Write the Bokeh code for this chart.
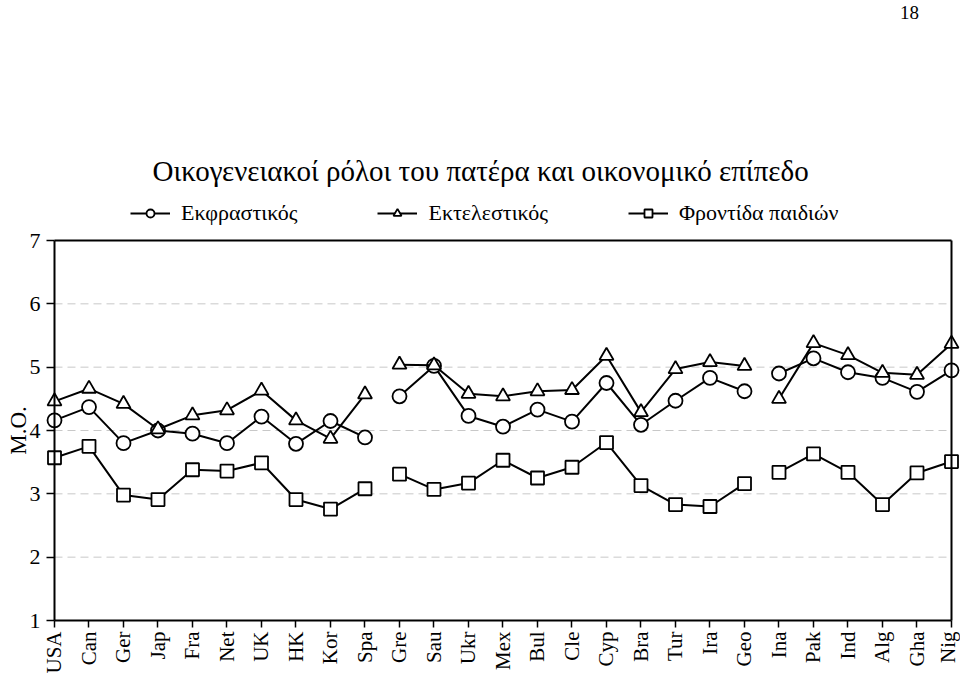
import math
from bokeh.plotting import figure
from bokeh.models import Range1d, FixedTicker, Legend, LegendItem, Label
from bokeh.embed import file_html
from bokeh.resources import INLINE

# ---------------- data ----------------
categories = ["USA", "Can", "Ger", "Jap", "Fra", "Net", "UK", "HK", "Kor", "Spa",
              "Gre", "Sau", "Ukr", "Mex", "Bul", "Cle", "Cyp", "Bra", "Tur", "Ira", "Geo",
              "Ina", "Pak", "Ind", "Alg", "Gha", "Nig"]
group_sizes = [10, 11, 6]

expressive = [4.16, 4.37, 3.80, 4.00, 3.95, 3.80, 4.22, 3.79, 4.15, 3.89,
              4.54, 5.02, 4.23, 4.06, 4.33, 4.14, 4.75, 4.09, 4.47, 4.83, 4.62,
              4.90, 5.14, 4.92, 4.83, 4.61, 4.95]
executive = [4.46, 4.66, 4.42, 4.02, 4.24, 4.32, 4.63, 4.16, 3.87, 4.57,
             5.04, 5.03, 4.58, 4.54, 4.62, 4.64, 5.18, 4.29, 4.97, 5.08, 5.02,
             4.50, 5.38, 5.19, 4.91, 4.88, 5.37]
childcare = [3.57, 3.75, 2.98, 2.91, 3.38, 3.36, 3.49, 2.91, 2.76, 3.08,
             3.31, 3.07, 3.17, 3.53, 3.25, 3.42, 3.81, 3.13, 2.83, 2.80, 3.16,
             3.34, 3.63, 3.34, 2.83, 3.33, 3.51]

series_names = ["Εκφραστικός", "Εκτελεστικός", "Φροντίδα παιδιών"]
y_ticks = [1, 2, 3, 4, 5, 6, 7]
title_text = "Οικογενειακοί ρόλοι του πατέρα και οικονομικό επίπεδο"
page_number = "18"
y_label = "M.O."

# ---------------- styling ----------------
FONT = "Liberation Serif"
N = len(categories)
xs = list(range(N))
Y0, Y1 = y_ticks[0], y_ticks[-1]

# the frame fills the whole canvas; axes are drawn at fixed data locations
p = figure(width=960, height=682, output_backend="svg", toolbar_location=None,
           x_range=Range1d(-1.5652, 26.2609), y_range=Range1d(0.0211, 10.7895),
           min_border_left=0, min_border_right=0, min_border_bottom=0,
           min_border_top=0, title=None)
p.outline_line_color = None
p.background_fill_color = "white"
p.border_fill_color = "white"
p.xgrid.grid_line_color = None
p.ygrid.grid_line_color = None

# dashed horizontal gridlines across the chart area
grid_levels = y_ticks[1:-1]
p.segment(x0=[xs[0]] * len(grid_levels), x1=[xs[-1]] * len(grid_levels),
          y0=grid_levels, y1=grid_levels, line_color="#c8c8c8",
          line_dash="8 5", line_width=1)

# y axis
p.yaxis.fixed_location = xs[0]
p.yaxis.ticker = FixedTicker(ticks=y_ticks)
p.yaxis.axis_line_color = None
p.yaxis.major_tick_in = 0
p.yaxis.major_tick_out = 8
p.yaxis.major_tick_line_color = "black"
p.yaxis.major_tick_line_width = 1.5
p.yaxis.minor_tick_line_color = None
p.yaxis.major_label_text_font = FONT
p.yaxis.major_label_text_font_size = "22px"
p.yaxis.major_label_text_color = "black"
p.yaxis.major_label_standoff = 6

# x axis
p.xaxis.fixed_location = Y0
p.xaxis.ticker = FixedTicker(ticks=xs)
p.xaxis.major_label_overrides = {i: c for i, c in zip(xs, categories)}
p.xaxis.major_label_orientation = math.pi / 2
p.xaxis.axis_line_color = None
p.xaxis.major_tick_in = 0
p.xaxis.major_tick_out = 7
p.xaxis.major_tick_line_color = "black"
p.xaxis.major_tick_line_width = 1.5
p.xaxis.minor_tick_line_color = None
p.xaxis.major_label_text_font = FONT
p.xaxis.major_label_text_font_size = "21px"
p.xaxis.major_label_text_color = "black"
p.xaxis.major_label_standoff = 4

# series
markers = ["circle", "triangle", "square"]
sizes = [14, 14, 13]
legend_items = []
for name, vals, mk, sz in zip(series_names, [expressive, executive, childcare], markers, sizes):
    start = 0
    first_line = None
    for g in group_sizes:
        lr = p.line(xs[start:start + g], vals[start:start + g], line_color="black", line_width=2)
        if first_line is None:
            first_line = lr
        start += g
    sr = p.scatter(xs, vals, marker=mk, size=sz, fill_color="white",
                   line_color="black", line_width=1.8)
    legend_items.append(LegendItem(label=name, renderers=[first_line, sr]))

# frame lines (left, right, top, bottom)
p.segment(x0=[xs[0], xs[-1], xs[0], xs[0]], y0=[Y0, Y0, Y1, Y0],
          x1=[xs[0], xs[-1], xs[-1], xs[-1]], y1=[Y1, Y1, Y1, Y0],
          line_color="black", line_width=2)

legend = Legend(items=legend_items, orientation="horizontal", location=(130, 456),
                spacing=80, glyph_width=40, glyph_height=20, label_standoff=11,
                label_text_font=FONT, label_text_font_size="22px",
                label_text_color="black", border_line_color=None,
                background_fill_alpha=0, padding=0, margin=0)
p.add_layout(legend, "center")

p.add_layout(Label(x=12.35, y=8.105, text=title_text, text_align="center",
                   text_baseline="middle", text_font=FONT, text_font_size="29px",
                   text_color="black"))
p.add_layout(Label(x=24.78, y=10.6, text=page_number, text_align="center",
                   text_baseline="middle", text_font=FONT, text_font_size="19px",
                   text_color="black"))
p.add_layout(Label(x=-1.043, y=4, text=y_label, angle=math.pi / 2, text_align="center",
                   text_baseline="middle", text_font=FONT, text_font_size="23px",
                   text_color="black"))

open("out.html", "w").write(file_html(p, INLINE))
